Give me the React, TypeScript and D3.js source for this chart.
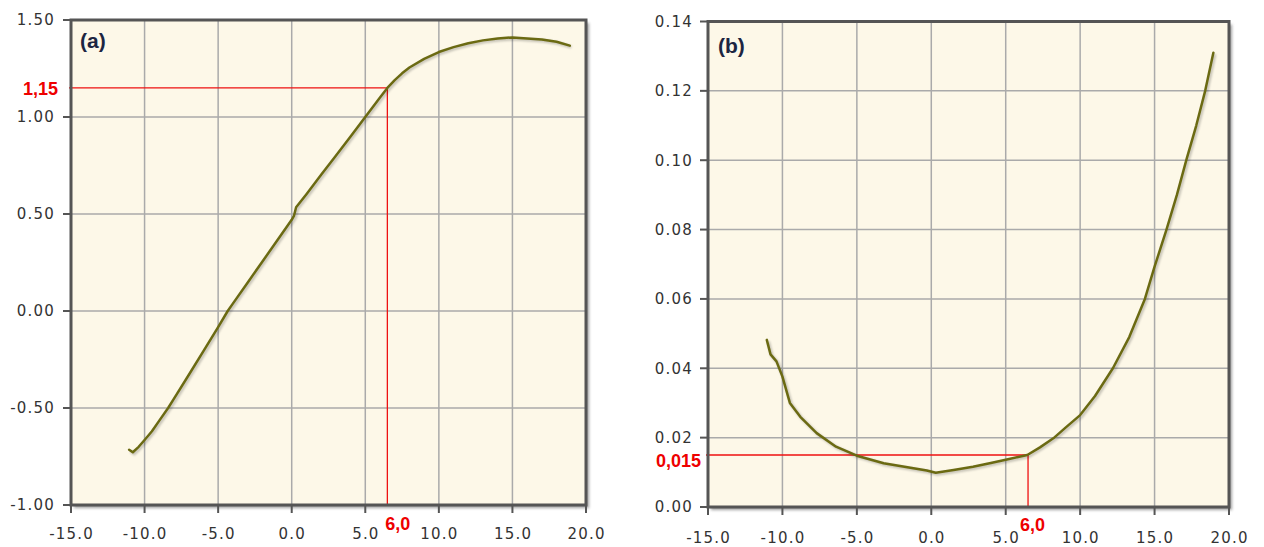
import * as d3 from "d3";

// x ticks shared by both panels
const xTicks = [-15, -10, -5, 0, 5, 10, 15, 20];
const aYTicks = [-1, -0.5, 0, 0.5, 1, 1.5];
const bYTicks = [0, 0.02, 0.04, 0.06, 0.08, 0.1, 0.12, 0.14];

// panel (a) curve
const aX = [-11.05, -10.8, -10.4, -10, -9.5, -9, -8.4, -8, -7, -6, -5, -4.35, -4, -3, -2, -1, 0, 0.15, 0.3, 1, 2, 3, 4, 5, 6, 6.5, 7, 7.5, 8, 9, 10, 11, 12, 13, 14, 15, 16, 17, 18, 18.9];
const aY = [-0.715, -0.728, -0.7, -0.665, -0.62, -0.565, -0.5, -0.452, -0.33, -0.207, -0.083, 0, 0.038, 0.146, 0.254, 0.362, 0.47, 0.49, 0.535, 0.602, 0.702, 0.8, 0.9, 1.0, 1.1, 1.15, 1.19, 1.225, 1.255, 1.3, 1.335, 1.36, 1.38, 1.395, 1.405, 1.41, 1.405, 1.4, 1.388, 1.368];

// panel (b) curve
const bX = [-11.05, -10.8, -10.4, -10, -9.5, -8.8, -7.7, -6.4, -5, -3.2, -1.2, -0.3, 0.3, 1.5, 2.8, 4, 5, 6.45, 7.3, 8.2, 9, 10, 11, 12.2, 13.3, 14.35, 15, 15.8, 16.5, 17.15, 17.8, 18.4, 18.95];
const bY = [0.0482, 0.044, 0.042, 0.0376, 0.03, 0.026, 0.0213, 0.0174, 0.0148, 0.0126, 0.0112, 0.0105, 0.0099, 0.0107, 0.0116, 0.0127, 0.0136, 0.015, 0.0172, 0.0198, 0.0228, 0.0265, 0.032, 0.04, 0.049, 0.06, 0.0693, 0.08, 0.09, 0.1003, 0.11, 0.12, 0.131];

// red reading lines
const aMark = [6.5, 1.15];
const bMark = [6.5, 0.015];
const aMarkLabels = ["6,0", "1,15"];
const bMarkLabels = ["6,0", "0,015"];

const panels = [
  {
    id: "a", title: "(a)", xs: aX, ys: aY, yTicks: aYTicks, yFmt: (v) => v.toFixed(2),
    mark: aMark, markLabels: aMarkLabels,
    left: 71, right: 586, top: 20, bottom: 505,
    titlePos: [80, 47.5], xLabY: 539, yLabX: 55, markXdx: -2, markXy: 530, markYx: 58, markYdy: 7.5,
  },
  {
    id: "b", title: "(b)", xs: bX, ys: bY, yTicks: bYTicks, yFmt: (v) => v.toFixed(2),
    mark: bMark, markLabels: bMarkLabels,
    left: 708, right: 1229, top: 21.5, bottom: 507,
    titlePos: [718, 52.5], xLabY: 543, yLabX: 693, markXdx: -8, markXy: 531, markYx: 701, markYdy: 12.5,
  },
];

const Panel = ({ p }) => {
  const x = d3.scaleLinear().domain([-15, 20]).range([p.left, p.right]);
  const y = d3.scaleLinear().domain([p.yTicks[0], p.yTicks[p.yTicks.length - 1]]).range([p.bottom, p.top]);
  const pts = p.xs.map((v, i) => [x(v), y(p.ys[i])]);
  const line = d3.line().curve(d3.curveLinear)(pts);
  const w = p.right - p.left;
  const h = p.bottom - p.top;
  const mx = x(p.mark[0]);
  const my = y(p.mark[1]);
  const tickFont = { fontFamily: "DejaVu Sans, Verdana, sans-serif", fontSize: 15, fill: "#333", letterSpacing: 1.2 };
  const redFont = { fontFamily: "Liberation Sans, Arial, sans-serif", fontSize: 18, fontWeight: "bold", fill: "#ee0000" };
  return (
    <g>
      {/* frame shadow */}
      <rect x={p.left + 3} y={p.top + 3} width={w} height={h} fill="#888" filter="url(#blur)" opacity={0.8} />
      <rect x={p.left} y={p.top} width={w} height={h} fill="#fdf8e8" />
      {xTicks.map((t) => (
        <line key={"gx" + t} x1={x(t)} x2={x(t)} y1={p.top} y2={p.bottom} stroke="#aaa" strokeWidth={1.5} />
      ))}
      {p.yTicks.map((t) => (
        <line key={"gy" + t} x1={p.left} x2={p.right} y1={y(t)} y2={y(t)} stroke="#aaa" strokeWidth={1.5} />
      ))}
      {/* red reading lines */}
      <line x1={p.left - 2} x2={mx} y1={my} y2={my} stroke="#ee1111" strokeWidth={1.3} />
      <line x1={mx} x2={mx} y1={my} y2={p.bottom} stroke="#ee1111" strokeWidth={1.3} />
      <path d={line} fill="none" stroke="#000" strokeOpacity={0.22} strokeWidth={3} transform="translate(1.5,1.5)" filter="url(#blurs)" />
      <path d={line} fill="none" stroke="#6b6a12" strokeWidth={2.5} strokeLinejoin="round" strokeLinecap="round" />
      <rect x={p.left} y={p.top} width={w} height={h} fill="none" stroke="#555" strokeWidth={3} />
      {/* y ticks */}
      {p.yTicks.map((t) => (
        <g key={"ty" + t}>
          <line x1={p.left - 8} x2={p.left} y1={y(t)} y2={y(t)} stroke="#555" strokeWidth={2} />
          <text x={p.yLabX} y={y(t)} dy="0.36em" textAnchor="end" style={tickFont}>{p.yFmt(t)}</text>
        </g>
      ))}
      {/* x ticks */}
      {xTicks.map((t) => (
        <g key={"tx" + t}>
          <line x1={x(t)} x2={x(t)} y1={p.bottom} y2={p.bottom + 8} stroke="#555" strokeWidth={2} />
          <text x={x(t) + 0.6} y={p.xLabY} textAnchor="middle" style={tickFont}>{t.toFixed(1)}</text>
        </g>
      ))}
      <text x={mx + p.markXdx} y={p.markXy} style={redFont}>{p.markLabels[0]}</text>
      <text x={p.markYx} y={my + p.markYdy} textAnchor="end" style={redFont}>{p.markLabels[1]}</text>
      <text x={p.titlePos[0]} y={p.titlePos[1]} style={{ fontFamily: "Liberation Sans, Arial, sans-serif", fontSize: 21, fontWeight: "bold", fill: "#1c2541" }}>
        {p.title}
      </text>
    </g>
  );
};

export default function App() {
  return (
    <svg width={1264} height={547} style={{ position: "absolute", left: 0, top: 0, background: "#fff" }}>
      <defs>
        <filter id="blur" x="-5%" y="-5%" width="110%" height="110%">
          <feGaussianBlur stdDeviation={1.5} />
        </filter>
        <filter id="blurs">
          <feGaussianBlur stdDeviation={0.8} />
        </filter>
      </defs>
      {panels.map((p) => (
        <Panel key={p.id} p={p} />
      ))}
    </svg>
  );
}
